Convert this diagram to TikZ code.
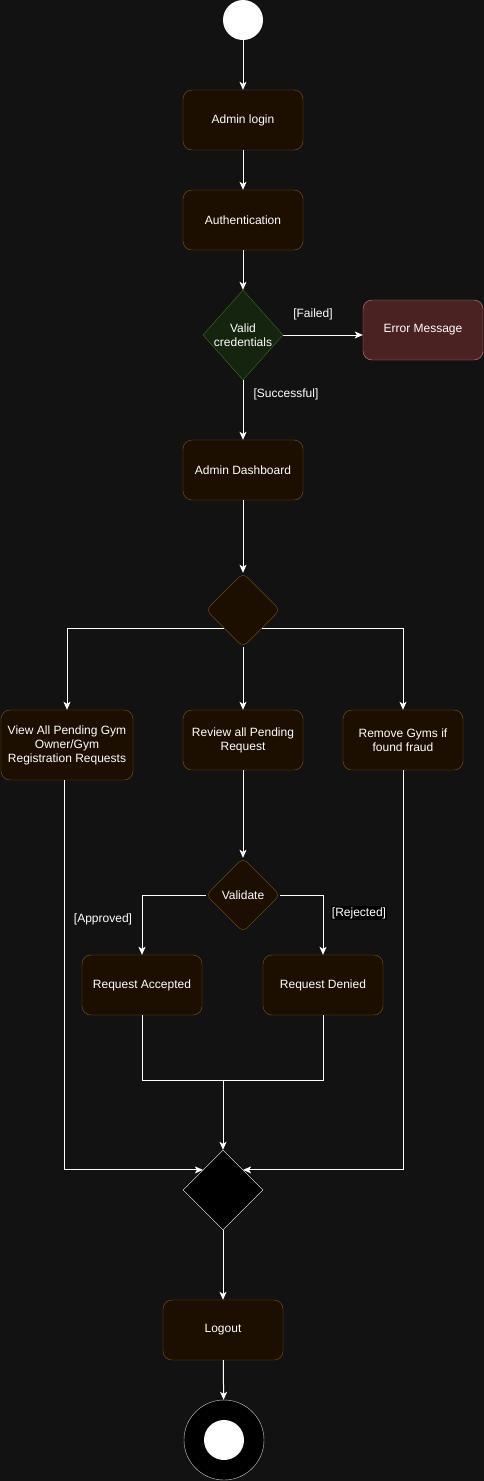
\documentclass[tikz,border=0pt]{standalone}
\usepackage{fontspec}
\setmainfont{Liberation Sans}
\usetikzlibrary{shapes.geometric,arrows.meta}

\definecolor{bg}{HTML}{121212}
\definecolor{actfill}{HTML}{1C0F00}
\definecolor{actdraw}{HTML}{7F5A14}
\definecolor{okfill}{HTML}{15240F}
\definecolor{okdraw}{HTML}{3E6E20}
\definecolor{errfill}{HTML}{4A2222}
\definecolor{errdraw}{HTML}{E57878}

\tikzset{
  act/.style={rectangle,rounded corners=9pt,draw=actdraw,fill=actfill,text=white,
    minimum width=120pt,minimum height=60pt,align=center,inner sep=2pt},
  choice/.style={diamond,draw=actdraw,fill=actfill,rounded corners=6pt,
    minimum width=74pt,minimum height=74pt,inner sep=0pt},
  flow/.style={draw=white,line width=1pt,-{Stealth[length=8pt,width=7pt,inset=2pt]}},
  lbl/.style={text=white,inner sep=1pt}
}

\begin{document}
\begin{tikzpicture}[x=1pt,y=-1pt,font=\fontsize{12}{14}\selectfont]

        \useasboundingbox (0,0) rectangle (484,1481);
        \fill[bg] (0,0) rectangle (484,1481);

        \node[circle,fill=white,minimum size=40pt,inner sep=0pt] (1) at (243,20) {};

        \begin{scope}[every node/.style={act}]
          \node (2)  at (243,120)  {Admin login};
          \node (3)  at (243,220)  {Authentication};
          \node (6)  at (243,470)  {Admin Dashboard};
          \node[minimum width=132pt,minimum height=70pt] (8) at (67,745)
            {View All Pending Gym\\Owner/Gym\\Registration Requests};
          \node (9)  at (243,740)  {Review all Pending\\Request};
          \node (10) at (403,740)  {Remove Gyms if\\found fraud};
          \node (12) at (142,985)  {Request Accepted};
          \node (13) at (323,985)  {Request Denied};
          \node (15) at (223,1330) {Logout};
          \node[fill=errfill,draw=errdraw] (5) at (423,330) {Error Message};
        \end{scope}

        \begin{scope}[every node/.style={choice}]
          \node[fill=okfill,draw=okdraw,rounded corners=0pt,minimum width=80pt,minimum height=90pt,
            label={[text=white,align=center]center:Valid\\credentials}] (4) at (243,335) {};
          \node (7)  at (243,610) {};
          \node[label={[text=white]center:Validate}] (11) at (243,895) {};
          \node[fill=black,draw=white,rounded corners=0pt,minimum width=80pt,minimum height=80pt] (14) at (223,1190) {};
        \end{scope}

        \node[circle,fill=black,draw=white!80!black,minimum size=80pt,inner sep=0pt] (16) at (224,1440) {};
        \fill[white] (16.center) circle (20pt);

        \coordinate (m) at (223,1080);

        \begin{scope}[every edge/.style={flow}]
          \path (1)  edge (2);
          \path (2)  edge (3);
          \path (3)  edge (4);
          \path (4.east) edge (4.east -| 5.west);
          \path (4)  edge (6);
          \path (6)  edge (7);
          \path (7)  edge (9);
          \path (9)  edge (11);
          \path (m)  edge (14);
          \path (14) edge (15);
          \path (15) edge (16);
        \end{scope}

        \draw[flow] (7.south west) -| (8);
        \draw[flow] (7.south east) -| (10);
        \draw[flow] (11.west) -| (12);
        \draw[flow] (11.east) -| (13);
        \draw[white,line width=1pt] (12) |- (m) -| (13);
        \draw[flow] ([xshift=-3pt]8.south) |- (14.north west);
        \draw[flow] (10) |- (14.north east);

        \node[lbl] (f) at (313,314) {[Failed]};
        \node[lbl] (s) at (286,394) {[Successful]};
        \node[lbl] (a) at (103,919) {[Approved]};
        \node[lbl,fill=black] (r) at (359,913) {[Rejected]};

      \end{tikzpicture}
\end{document}
